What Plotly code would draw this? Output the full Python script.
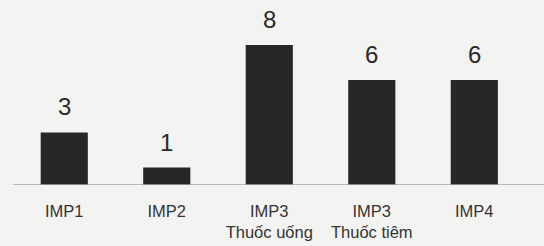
import plotly.graph_objects as go

categories = ["IMP1", "IMP2", "IMP3<br>Thuốc uống", "IMP3<br>Thuốc tiêm", "IMP4"]
values = [3, 1, 8, 6, 6]

fig = go.Figure()
fig.add_trace(go.Bar(
    x=list(range(len(categories))), y=values,
    marker=dict(color="#262826", line=dict(width=0)),
    width=0.46,
    hoverinfo="skip",
))
for i, v in enumerate(values):
    fig.add_annotation(x=i, y=v, text=str(v), showarrow=False,
                       yanchor="bottom", yshift=10,
                       font=dict(family="Liberation Sans, Arial", size=24, color="#2a2a2a"))

fig.update_layout(
    width=544, height=246,
    margin=dict(l=13, r=0, t=0, b=61),
    paper_bgcolor="#f3f3f1", plot_bgcolor="#f3f3f1",
    showlegend=False,
    xaxis=dict(range=[-0.5, 4.68], tickmode="array",
               tickvals=list(range(len(categories))), ticktext=categories,
               showgrid=False, zeroline=False, showline=False, ticks="",
               tickfont=dict(family="Liberation Sans, Arial", size=16.5, color="#333333"),
               ticklabelstandoff=14, automargin=False),
    yaxis=dict(range=[0, 10.57], visible=False, showgrid=False, zeroline=False),
)
fig.add_shape(type="line", xref="paper", yref="y", x0=0, x1=1.0, y0=0, y1=0,
              line=dict(color="#a5a5a5", width=1.5))
fig.write_html("out.html", config={"displayModeBar": False},
               post_script="document.body.style.margin='0';document.body.style.background='#f3f3f1';")
